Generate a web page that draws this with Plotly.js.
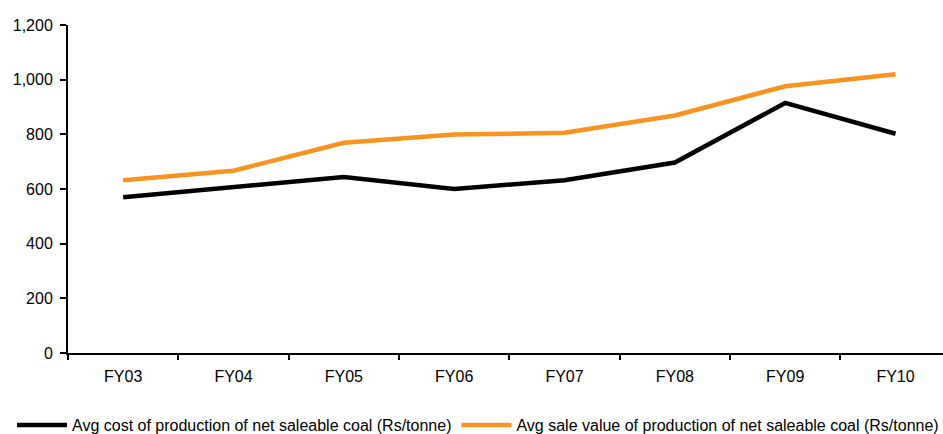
<!DOCTYPE html>
<html>
<head>
<meta charset="utf-8">
<script src="https://cdn.plot.ly/plotly-3.0.1.min.js"></script>
<style>
  html, body { margin: 0; padding: 0; background: #fff; }
  #chart { width: 943px; height: 434px; }
</style>
</head>
<body>
<div id="chart"></div>
<script>
// Fiscal years on the category axis
const years = ["FY03", "FY04", "FY05", "FY06", "FY07", "FY08", "FY09", "FY10"];

// Rs per tonne of net saleable coal
const costOfProduction = [570, 608, 644, 600, 632, 697, 915, 802];
const saleValue = [632, 667, 769, 799, 806, 869, 976, 1020];

const yTicks = [0, 200, 400, 600, 800, 1000, 1200];
const yTickText = ["0", "200", "400", "600", "800", "1,000", "1,200"];

const seriesNames = [
  "Avg cost of production of net saleable coal (Rs/tonne)",
  "Avg sale value of production of net saleable coal (Rs/tonne)"
];

const traces = [
  {
    x: years, y: costOfProduction, name: seriesNames[0],
    type: "scatter", mode: "lines",
    line: { color: "#000000", width: 4.5 }
  },
  {
    x: years, y: saleValue, name: seriesNames[1],
    type: "scatter", mode: "lines",
    line: { color: "#F7931E", width: 4.5 }
  }
];

const layout = {
  width: 943, height: 434,
  margin: { l: 68, r: 0, t: 25, b: 81, pad: 0, autoexpand: false },
  paper_bgcolor: "#fff", plot_bgcolor: "#fff",
  font: { family: "Liberation Sans, Arial, sans-serif", size: 16, color: "#000" },
  showlegend: true,
  legend: {
    orientation: "h", x: -0.064, xanchor: "left", y: -0.22, yanchor: "middle",
    font: { size: 16, color: "#000" }, traceorder: "normal",
    itemwidth: 50, tracegroupgap: 0
  },
  xaxis: {
    type: "category", range: [-0.5, 7.43],
    showline: true, linecolor: "#000", linewidth: 2,
    ticks: "outside", tickson: "boundaries", ticklen: 5, tickwidth: 2, tickcolor: "#000",
    showgrid: false, zeroline: false, fixedrange: true,
    ticklabelstandoff: 8
  },
  yaxis: {
    range: [0, 1200], tickvals: yTicks, ticktext: yTickText,
    showline: true, linecolor: "#000", linewidth: 2,
    ticks: "outside", ticklen: 6, tickwidth: 2, tickcolor: "#000",
    showgrid: false, zeroline: false, fixedrange: true,
    ticklabelstandoff: 4
  }
};

Plotly.newPlot("chart", traces, layout, { staticPlot: true, displayModeBar: false });
</script>
</body>
</html>
